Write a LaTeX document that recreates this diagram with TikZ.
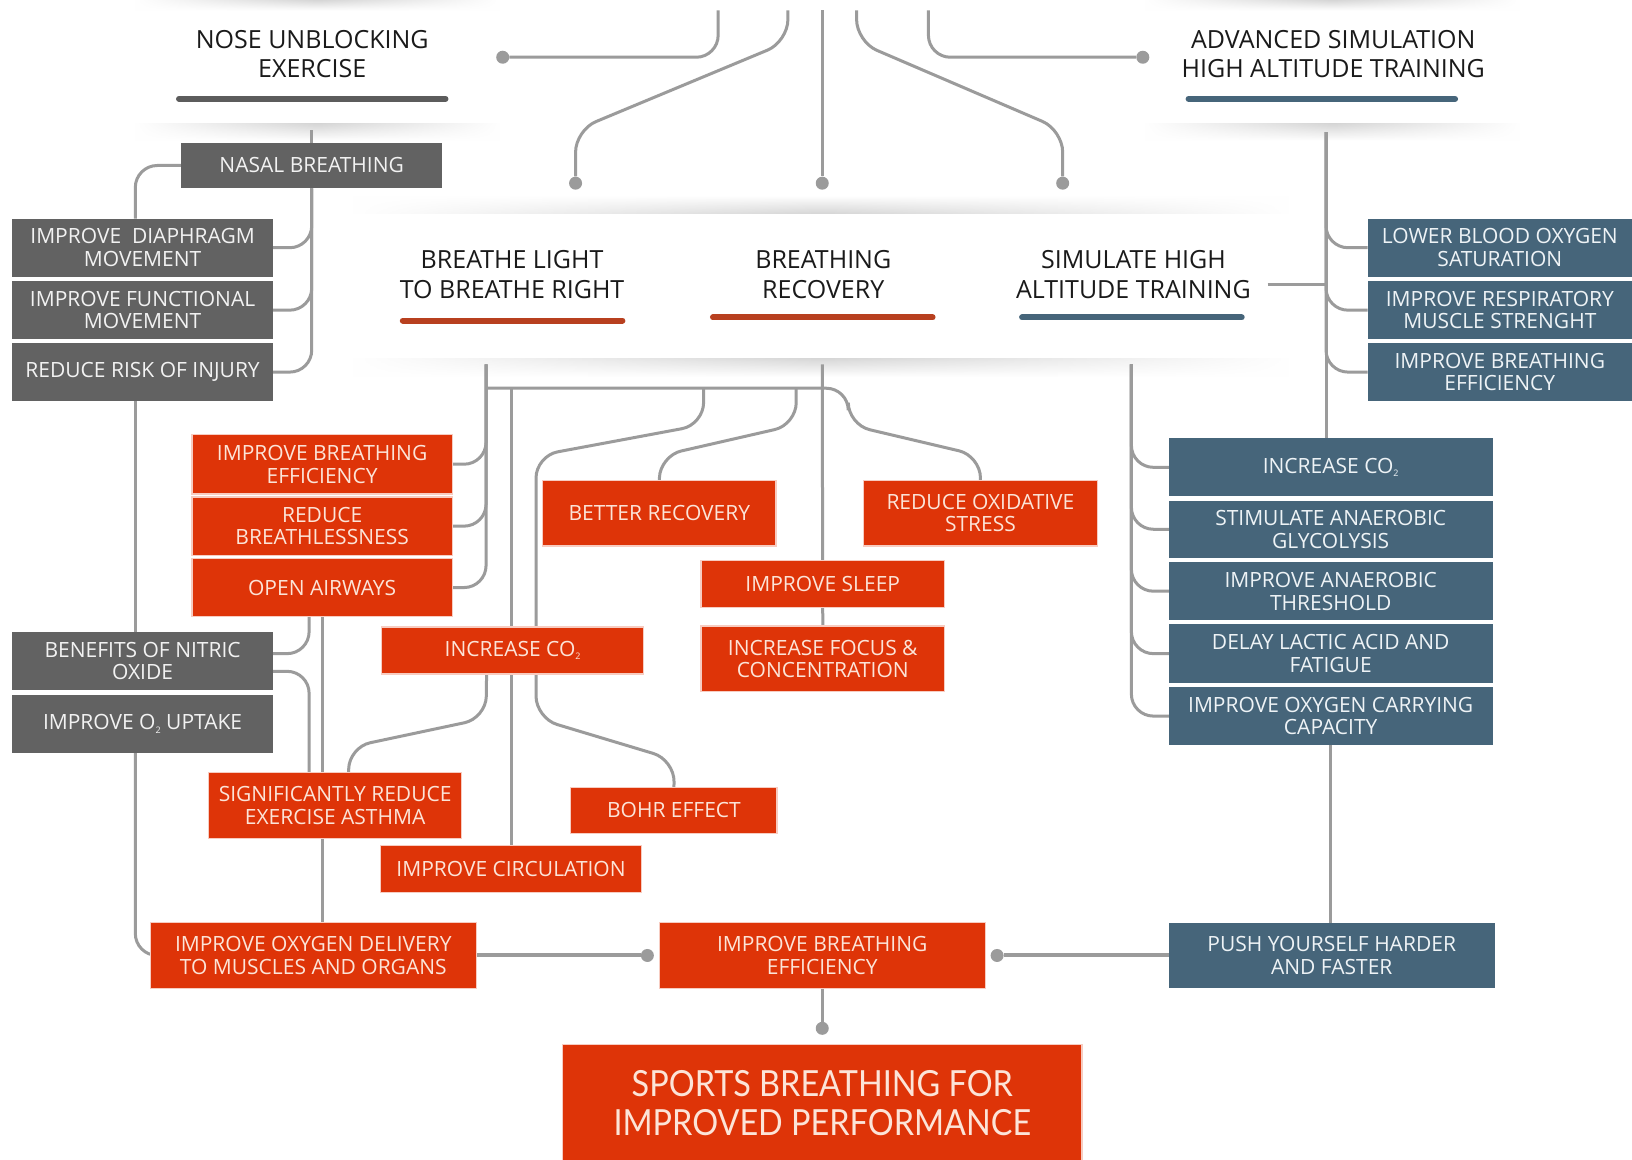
\documentclass[tikz,border=0pt]{standalone}
\usepackage{fontspec}
\setmainfont{Open Sans}
\newfontfamily\sportsfont[FakeStretch=0.9]{Lato}
\usetikzlibrary{calc,fadings}
\definecolor{cgray}{RGB}{98,98,98}
\definecolor{cred}{RGB}{222,52,8}
\definecolor{cblue}{RGB}{70,101,122}
\definecolor{cline}{RGB}{155,155,155}
\definecolor{barred}{RGB}{184,64,31}
\definecolor{bargray}{RGB}{92,92,92}
\definecolor{hdrtext}{RGB}{26,26,26}
\definecolor{redtext}{RGB}{252,228,216}
\definecolor{greytext}{RGB}{242,242,242}
\definecolor{bluetext}{RGB}{238,243,246}
\pgfdeclarelayer{back}
\pgfdeclarelayer{lines}
\pgfsetlayers{back,lines,main}
\newcommand{\subtwo}{{\fontsize{9}{9}\selectfont\raisebox{-0.7ex}{2}}}
% \bx{style}{name}{x1}{y1}{x2}{y2}{text}
\newcommand{\bx}[7]{\node[#1, minimum width={(#5-#3)*1.0408pt}, minimum height={(#6-#4)*1.0408pt}] (#2) at ({(#3+#5)/2},{(#4+#6)/2}) {#7};}
\tikzfading[name=sidefade, left color=transparent!100, right color=transparent!100, middle color=transparent!0]
\begin{document}
\begin{tikzpicture}[x=1.0408pt, y=-1.0408pt,
  box/.style={inner sep=0pt, outer sep=0pt, align=center, font=\fontsize{21}{22.6}\selectfont},
  gbox/.style={box, fill=cgray, text=greytext},
  rbox/.style={box, fill=cred, text=redtext, preaction={draw=cred!25, line width=2.5pt}},
  bbox/.style={box, fill=cblue, text=bluetext},
  hdr/.style={align=center, text=hdrtext, font=\fontsize{25}{29.5}\selectfont},
  conn/.style={draw=cline, line width=3pt, rounded corners=22pt},
  dot/.style={circle, fill=cline, inner sep=0pt, minimum size=13pt},
  bar/.style={line width=6pt, line cap=round}]
\useasboundingbox (0,0) rectangle (1568,1114);

% background, panels and shadows
\begin{pgfonlayer}{back}
  \fill[white] (0,0) rectangle (1568,1114);
  \shade[top color=black!16, bottom color=white, path fading=sidefade] (130,0) rectangle (480,10);
  \shade[top color=black!16, bottom color=white, path fading=sidefade] (130,119) rectangle (480,135);
  \shade[top color=black!16, bottom color=white, path fading=sidefade] (1100,0) rectangle (1460,10);
  \shade[top color=black!16, bottom color=white, path fading=sidefade] (1100,119) rectangle (1460,135);
  \shade[top color=white, bottom color=black!16, path fading=sidefade] (340,188) rectangle (1240,205);
  \shade[top color=black!16, bottom color=white, path fading=sidefade] (340,344) rectangle (1240,362);
\end{pgfonlayer}

% headers
\node[hdr] (nose) at (300,52) {NOSE UNBLOCKING\\EXERCISE};
\node[hdr] (adv) at (1281,52) {ADVANCED SIMULATION\\HIGH ALTITUDE TRAINING};
\node[hdr] (bl) at (492,264) {BREATHE LIGHT\\TO BREATHE RIGHT};
\node[hdr] (rec) at (791,264) {BREATHING\\RECOVERY};
\node[hdr] (sim) at (1089,264) {SIMULATE HIGH\\ALTITUDE TRAINING};
\draw[bar, bargray] (172,95) -- (428,95);
\draw[bar, cblue] (1142,95) -- (1398,95);
\draw[bar, barred] (387,308) -- (598,308);
\draw[bar, barred] (685,305) -- (896,305);
\draw[bar, cblue] (982,305) -- (1193,305);

% dots
\node[dot] (dA) at (483,55) {};
\node[dot] (dB) at (553,176) {};
\node[dot] (dC) at (790,176) {};
\node[dot] (dD) at (1021,176) {};
\node[dot] (dE) at (1098,55) {};

% grey boxes
\bx{gbox}{nasal}{174}{137}{425}{181}{NASAL BREATHING}
\bx{gbox}{g1}{12}{210}{262}{266}{IMPROVE\ \ DIAPHRAGM\\MOVEMENT}
\bx{gbox}{g2}{12}{270}{262}{326}{IMPROVE FUNCTIONAL\\MOVEMENT}
\bx{gbox}{g3}{12}{330}{262}{385}{REDUCE RISK OF INJURY}
\bx{gbox}{g4}{12}{607}{262}{663}{BENEFITS OF NITRIC\\OXIDE}
\bx{gbox}{g5}{12}{668}{262}{723}{IMPROVE O\subtwo\ UPTAKE}

% red boxes
\bx{rbox}{r1}{185}{418}{434}{474}{IMPROVE BREATHING\\EFFICIENCY}
\bx{rbox}{r2}{185}{478}{434}{533}{REDUCE\\BREATHLESSNESS}
\bx{rbox}{r3}{185}{537}{434}{592}{OPEN AIRWAYS}
\bx{rbox}{co2r}{367}{603}{618}{647}{INCREASE CO\subtwo}
\bx{rbox}{brec}{522}{462}{745}{524}{BETTER RECOVERY}
\bx{rbox}{oxi}{830}{462}{1054}{524}{REDUCE OXIDATIVE\\STRESS}
\bx{rbox}{sleep}{674}{539}{907}{583}{IMPROVE SLEEP}
\bx{rbox}{focus}{674}{602}{907}{664}{INCREASE FOCUS \&\\CONCENTRATION}
\bx{rbox}{sig}{201}{743}{443}{805}{SIGNIFICANTLY REDUCE\\EXERCISE ASTHMA}
\bx{rbox}{bohr}{549}{757}{746}{800}{BOHR EFFECT}
\bx{rbox}{circ}{366}{813}{616}{857}{IMPROVE CIRCULATION}
\bx{rbox}{oxd}{145}{887}{457}{949}{IMPROVE OXYGEN DELIVERY\\TO MUSCLES AND ORGANS}
\bx{rbox}{cbe}{634}{887}{946}{949}{IMPROVE BREATHING\\EFFICIENCY}
\bx{rbox, font=\sportsfont\fontsize{36}{39}\selectfont}{sports}{541}{1004}{1039}{1116}{SPORTS BREATHING FOR\\IMPROVED PERFORMANCE}

% blue boxes
\bx{bbox}{b1}{1314}{210}{1568}{266}{LOWER BLOOD OXYGEN\\SATURATION}
\bx{bbox}{b2}{1314}{270}{1568}{326}{IMPROVE RESPIRATORY\\MUSCLE STRENGHT}
\bx{bbox}{b3}{1314}{330}{1568}{385}{IMPROVE BREATHING\\EFFICIENCY}
\bx{bbox}{c1}{1123}{421}{1434}{477}{INCREASE CO\subtwo}
\bx{bbox}{c2}{1123}{481}{1434}{536}{STIMULATE ANAEROBIC\\GLYCOLYSIS}
\bx{bbox}{c3}{1123}{540}{1434}{596}{IMPROVE ANAEROBIC\\THRESHOLD}
\bx{bbox}{c4}{1123}{600}{1434}{656}{DELAY LACTIC ACID AND\\FATIGUE}
\bx{bbox}{c5}{1123}{660}{1434}{716}{IMPROVE OXYGEN CARRYING\\CAPACITY}
\bx{bbox}{push}{1123}{887}{1436}{949}{PUSH YOURSELF HARDER\\AND FASTER}

% free ends
\coordinate (t1) at (690,10);
\coordinate (t2) at (757,10);
\coordinate (t3) at (790,10);
\coordinate (t4) at (823,10);
\coordinate (t5) at (892,10);
\coordinate (noseout) at (299.5,125);
\coordinate (advout) at (1274,127);
\coordinate (blout) at (467,350);
\coordinate (recout) at (790,350);
\coordinate (simout) at (1087,350);
\coordinate (simr) at (1218,273);
\coordinate (hbar) at (467,373);
\node[dot] (dl) at (622,918) {};
\node[dot] (dr) at (958,918) {};
\node[dot] (dc) at (790,988) {};

\begin{pgfonlayer}{lines}
  % top
  \draw[conn] (t1) |- (dA);
  \draw[conn] (t2) -- (757,40) -- (553,125) -- (dB);
  \draw[conn] (t3) -- (dC);
  \draw[conn] (t4) -- (823,40) -- (1021,125) -- (dD);
  \draw[conn] (t5) |- (dE);
  % grey side
  \draw[conn] (noseout) -- (nasal.north);
  \draw[conn] (nasal.south) |- (g1.east);
  \draw[conn] (nasal.south) |- (g2.east);
  \draw[conn] (nasal.south) |- (g3.east);
  \draw[conn] (nasal.west) -| ($(g1.north)+(-7,0)$);
  \draw[conn] ($(g3.south)+(-7,0)$) -- ($(g4.north)+(-7,0)$);
  \draw[conn] ($(g5.south)+(-7,0)$) |- (oxd.west);
  % breathe light
  \draw[conn] (blout) |- (r1.east);
  \draw[conn] (blout) |- (r2.east);
  \draw[conn] (blout) |- (r3.east);
  \draw[conn] (hbar) -- (815,373) -- (815,408) -- (942,438) -- (oxi.north);
  \draw[conn] (765,373) -- (765,408) -- (634,438) -- (brec.north);
  \draw[conn] (676,373) -- (676,408) -- (515,438) -- (515,690) -- (648,730) -- (bohr.north);
  \draw[conn] (circ.north |- hbar) -- (circ.north);
  \draw[conn] (recout) -- (focus.north);
  \draw[conn] ($(co2r.south)+(-25,0)$) -- (467,690) -- (335,718) -- ($(sig.north)+(13,0)$);
  \draw[conn] ($(r3.south)+(-12.5,0)$) |- ($(g4.east)+(0,-7)$);
  \draw[conn] ($(g4.east)+(0,10)$) -| ($(sig.north)+(-25,0)$);
  \draw[conn] (r3.south) -- (r3.south |- oxd.north);
  % blue side
  \draw[conn] (advout) -- (advout |- c1.north);
  \draw[conn] (advout) |- (b1.west);
  \draw[conn] (advout) |- (b2.west);
  \draw[conn] (advout) |- (b3.west);
  \draw[conn] (simr) -- (simr -| advout);
  \draw[conn] (simout) |- (c1.west);
  \draw[conn] (simout) |- (c2.west);
  \draw[conn] (simout) |- (c3.west);
  \draw[conn] (simout) |- (c4.west);
  \draw[conn] (simout) |- (c5.west);
  \draw[conn] (c5.south) -- (c5.south |- push.north);
  % bottom
  \draw[conn, line width=4pt] (oxd.east) -- (dl);
  \draw[conn, line width=4pt] (push.west) -- (dr);
  \draw[conn] (cbe.south) -- (dc);
\end{pgfonlayer}
\end{tikzpicture}
\end{document}
